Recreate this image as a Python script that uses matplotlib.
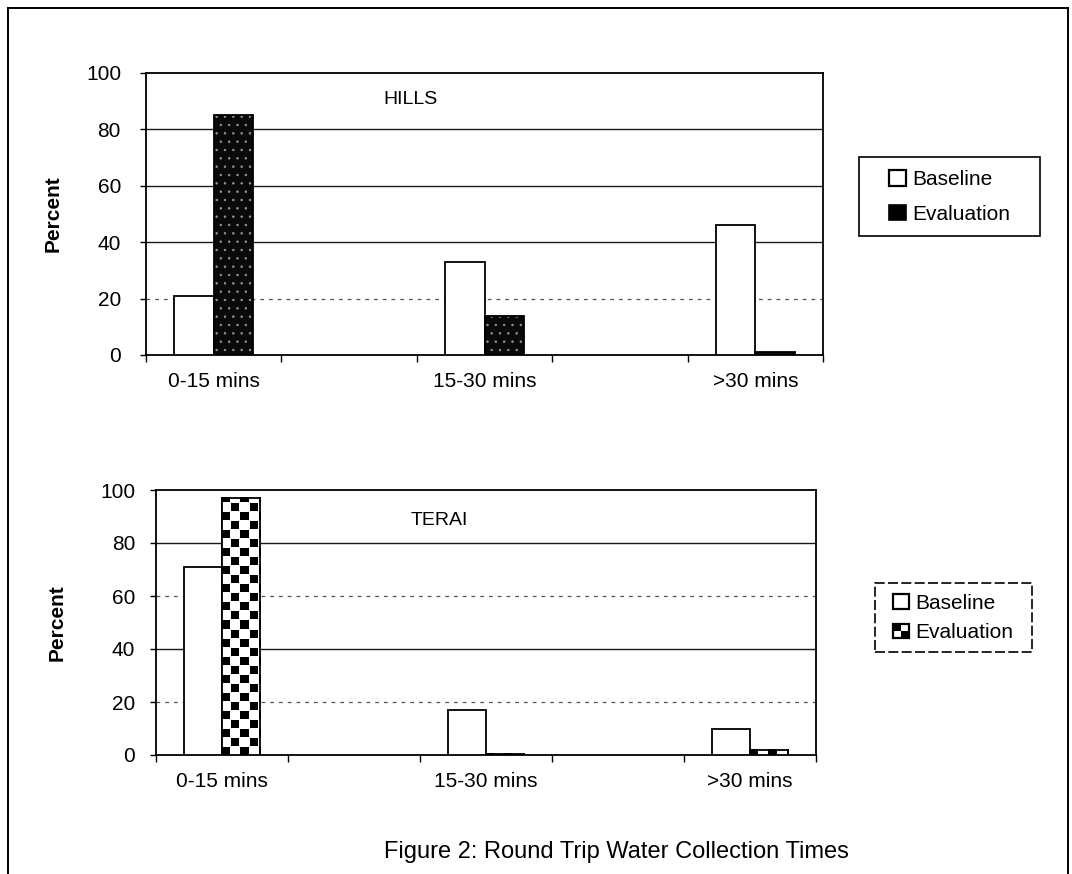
import numpy as np
import matplotlib
matplotlib.use('Agg')
import matplotlib.pyplot as plt
from matplotlib.patches import Patch, Rectangle
from matplotlib.lines import Line2D
from matplotlib.legend_handler import HandlerBase

# ---------------- data ----------------
categories = ['0-15 mins', '15-30 mins', '>30 mins']
series_names = ['Baseline', 'Evaluation']
hills_baseline = [21, 33, 46]
hills_evaluation = [85, 14, 1]
terai_baseline = [71, 17, 10]
terai_evaluation = [97, 0.5, 2]
y_ticks = [0, 20, 40, 60, 80, 100]
panel_titles = ['HILLS', 'TERAI']
y_label = 'Percent'
caption = 'Figure 2: Round Trip Water Collection Times'

plt.rcParams['font.family'] = ['Liberation Sans', 'DejaVu Sans']
plt.rcParams['hatch.linewidth'] = 0.5

W, H = 1072, 874
fig = plt.figure(figsize=(W / 100, H / 100), dpi=100)
fig.patch.set_facecolor('white')


def px_rect(x0, y0, x1, y1):
    return [x0 / W, 1 - y1 / H, (x1 - x0) / W, (y1 - y0) / H]


# category slots: 3 categories placed in 5 slots (every other slot used)
cat_pos = np.arange(len(categories)) * 2.0
bar_w = 0.29

ax_top = fig.add_axes(px_rect(146, 73, 823, 355))
ax_bot = fig.add_axes(px_rect(156, 490, 816, 755))


class CheckerPatch(Patch):
    pass


class CheckerHandler(HandlerBase):
    def create_artists(self, legend, orig_handle, xdescent, ydescent,
                       width, height, fontsize, trans):
        arts = []
        n = 2
        cw, ch = width / n, height / n
        for i in range(n):
            for j in range(n):
                if (i + j) % 2 == 1:
                    arts.append(Rectangle((-xdescent + i * cw, -ydescent + j * ch), cw, ch,
                                          facecolor='black', edgecolor='none', transform=trans))
        arts.append(Rectangle((-xdescent, -ydescent), width, height, facecolor='none',
                              edgecolor='black', lw=1.6, transform=trans))
        return arts


def style_axes(ax, ypad, grid_styles):
    ax.set_xlim(-0.5, 4.5)
    ax.set_ylim(0, 100)
    ax.set_yticks(y_ticks)
    ax.set_xticks(cat_pos)
    ax.set_xticklabels(categories, fontsize=15)
    ax.set_xticks(np.arange(-0.5, 5.0, 1.0), minor=True)
    ax.tick_params(axis='x', which='major', length=0, pad=12)
    ax.tick_params(axis='x', which='minor', length=5, width=1, direction='out')
    ax.tick_params(axis='y', length=4, width=1, direction='out', pad=ypad, labelsize=15)
    for s in ax.spines.values():
        s.set_linewidth(1.3)
        s.set_color('black')
    for yv, st in zip(y_ticks[1:-1], grid_styles):
        if st == 'solid':
            ax.axhline(yv, color='#1a1a1a', lw=1.0, zorder=1)
        else:
            ax.axhline(yv, color='#555555', lw=0.9, ls=(0, (3, 4)), zorder=1)


# ---------------- HILLS ----------------
ax = ax_top
ax.bar(cat_pos - bar_w / 2, hills_baseline, bar_w, facecolor='white',
       edgecolor='black', linewidth=1.3, zorder=3)
ax.bar(cat_pos + bar_w / 2, hills_evaluation, bar_w, facecolor='#0a0a0a',
       edgecolor='#9a9a9a', hatch='..', linewidth=0, zorder=3)
ax.bar(cat_pos + bar_w / 2, hills_evaluation, bar_w, fill=False,
       edgecolor='black', linewidth=1.3, zorder=4)
style_axes(ax, 14, ['dotted', 'solid', 'solid', 'solid'])
ax.text(0.39, 0.905, panel_titles[0], transform=ax.transAxes, ha='center',
        va='center', fontsize=14)
ax.set_ylabel(y_label, fontsize=15, fontweight='bold')
ax.yaxis.set_label_coords(-0.123, 0.503)

# ---------------- TERAI ----------------
ax = ax_bot
ax.bar(cat_pos - bar_w / 2, terai_baseline, bar_w, facecolor='white',
       edgecolor='black', linewidth=1.3, zorder=3)
ev_bars = ax.bar(cat_pos + bar_w / 2, terai_evaluation, bar_w, facecolor='white',
                 edgecolor='black', linewidth=1.3, zorder=3)
ax_w_px, ax_h_px = 660.0, 265.0
P, S, OFF = 18, 8, 9
for b in ev_bars:
    x0, y0, w, h = b.get_x(), b.get_y(), b.get_width(), b.get_height()
    wpx = max(1, int(round(w * ax_w_px / 5.0)))
    hpx = max(1, int(round(h * ax_h_px / 100.0)))
    jj, ii = np.meshgrid(np.arange(wpx), np.arange(hpx))
    a = ((jj % P) < S) & ((ii % P) < S)
    c = (((jj + OFF) % P) < S) & (((ii + OFF) % P) < S)
    img = np.where(a | c, 0.0, 1.0)
    ax.imshow(img, cmap='gray', vmin=0, vmax=1, extent=(x0, x0 + w, y0, y0 + h),
              origin='lower', aspect='auto', interpolation='nearest', zorder=3.5)
ax.bar(cat_pos + bar_w / 2, terai_evaluation, bar_w, fill=False,
       edgecolor='black', linewidth=1.3, zorder=4)
style_axes(ax, 11, ['dotted', 'solid', 'dotted', 'solid'])
ax.set_xlim(-0.5, 4.5)
ax.set_ylim(0, 100)
ax.text(0.43, 0.885, panel_titles[1], transform=ax.transAxes, ha='center',
        va='center', fontsize=14)
ax.set_ylabel(y_label, fontsize=15, fontweight='bold')
ax.yaxis.set_label_coords(-0.135, 0.50)

# ---------------- legends ----------------
h_base = Patch(facecolor='white', edgecolor='black', linewidth=1.6)
h_eval_top = Patch(facecolor='black', edgecolor='black', linewidth=1.2)
h_eval_bot = CheckerPatch(facecolor='white', edgecolor='black')

fig.legend([h_base, h_eval_top], series_names, loc='center left',
           bbox_to_anchor=(889 / W, 1 - 197 / H), frameon=False, fontsize=15,
           handlelength=0.8, handleheight=0.75, handletextpad=0.3,
           labelspacing=0.75, borderpad=0, borderaxespad=0)
fig.legend([h_base, h_eval_bot], series_names, loc='center left',
           bbox_to_anchor=(893 / W, 1 - 618 / H), frameon=False, fontsize=15,
           handlelength=0.75, handleheight=0.72, handletextpad=0.3,
           labelspacing=0.5, borderpad=0, borderaxespad=0,
           handler_map={CheckerPatch: CheckerHandler()})
fig.patches.append(Rectangle((859 / W, 1 - 236 / H), 181 / W, 79 / H, fill=False,
                             edgecolor='black', lw=1.2, transform=fig.transFigure))
fig.patches.append(Rectangle((875 / W, 1 - 652 / H), 157 / W, 69 / H, fill=False,
                             edgecolor='black', lw=1.2, ls=(0, (6, 2)),
                             transform=fig.transFigure))

# ---------------- caption and page frame ----------------
fig.text(616 / W, 1 - 852 / H, caption, ha='center', va='center', fontsize=17)
frame_kw = dict(color='black', lw=1.4, transform=fig.transFigure)
fig.add_artist(Line2D([8 / W, 8 / W], [0, 1 - 8 / H], **frame_kw))
fig.add_artist(Line2D([8 / W, 1068 / W], [1 - 8 / H, 1 - 8 / H], **frame_kw))
fig.add_artist(Line2D([1068 / W, 1068 / W], [1 - 8 / H, 0], **frame_kw))

fig.savefig('out.png', dpi=100, facecolor='white')
